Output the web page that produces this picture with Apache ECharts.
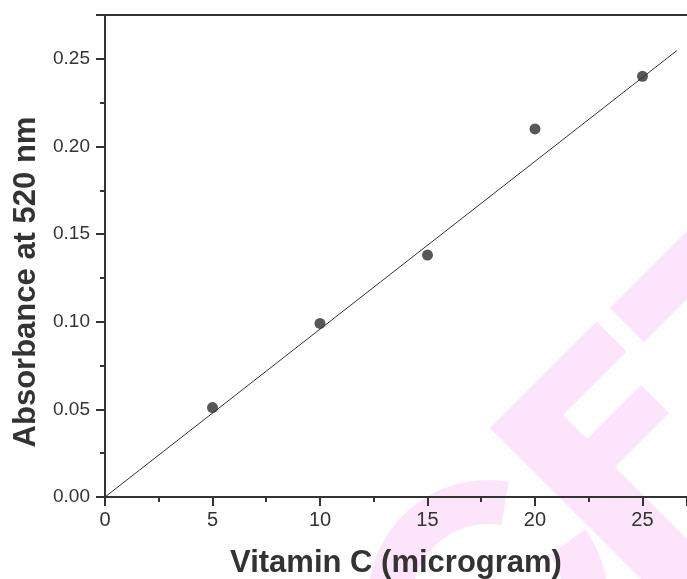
<!DOCTYPE html>
<html>
<head>
<meta charset="utf-8">
<title>Vitamin C calibration</title>
<script src="https://cdn.jsdelivr.net/npm/echarts@6/dist/echarts.min.js"></script>
<style>
  html, body { margin: 0; padding: 0; background: #ffffff; }
  #chart { width: 687px; height: 579px; }
</style>
</head>
<body>
<div id="chart"></div>
<script>
// Calibration standards: amount of vitamin C and measured absorbance
const vitaminC = [5, 10, 15, 20, 25];
const absorbance = [0.051, 0.099, 0.138, 0.210, 0.240];

// End points of the fitted calibration line
const fitX = [0, 26.6];
const fitY = [0, 0.2547];

// Axis ranges and label steps
const xRange = [0, 27.07];
const yRange = [0, 0.275];
const xStep = 5;
const yStep = 0.05;

const INK = '#333333';
const FONT = "Arial, 'Liberation Sans', Helvetica, sans-serif";

const points = vitaminC.map((x, i) => [x, absorbance[i]]);
const fitLine = fitX.map((x, i) => [x, fitY[i]]);

const chart = echarts.init(document.getElementById('chart'), null, { renderer: 'canvas' });

const axisCommon = {
  type: 'value',
  axisLine: { show: true, onZero: false, lineStyle: { color: INK, width: 2 } },
  axisTick: { show: true, inside: false, length: 9, lineStyle: { color: INK, width: 2 } },
  minorTick: { show: true, splitNumber: 2, length: 5, lineStyle: { color: INK, width: 2 } },
  splitLine: { show: false },
  minorSplitLine: { show: false }
};

chart.setOption({
  animation: false,
  backgroundColor: '#ffffff',
  textStyle: { fontFamily: FONT },
  grid: {
    left: 105, top: 15, right: 0, bottom: 82,
    containLabel: false,
    outerBoundsMode: 'none'
  },
  xAxis: [
    Object.assign({}, axisCommon, {
      position: 'bottom',
      min: xRange[0], max: xRange[1], interval: xStep,
      axisLabel: {
        color: INK, fontSize: 20, fontFamily: FONT, margin: 13,
        showMaxLabel: false,
        formatter: v => (Math.abs(v / xStep - Math.round(v / xStep)) < 1e-6 ? String(v) : '')
      },
      name: 'Vitamin C (microgram)',
      nameLocation: 'middle',
      nameGap: 51,
      nameTextStyle: { color: INK, fontSize: 31, fontWeight: 'bold', fontFamily: FONT }
    }),
    {
      type: 'value', position: 'top',
      min: xRange[0], max: xRange[1],
      axisLine: { show: true, onZero: false, lineStyle: { color: INK, width: 2 } },
      axisTick: { show: false }, axisLabel: { show: false }, splitLine: { show: false }
    }
  ],
  yAxis: [
    Object.assign({}, axisCommon, {
      position: 'left',
      min: yRange[0], max: yRange[1], interval: yStep,
      axisLabel: {
        color: INK, fontSize: 19, fontFamily: FONT, margin: 15,
        showMaxLabel: false,
        formatter: v => v.toFixed(2)
      },
      name: 'Absorbance at 520 nm',
      nameLocation: 'middle',
      nameGap: 63,
      nameTextStyle: {
        color: INK, fontSize: 31, fontWeight: 'bold', fontFamily: FONT,
        padding: [0, 52, 0, 0]
      }
    })
  ],
  series: [
    {
      type: 'line',
      data: fitLine,
      showSymbol: false,
      symbol: 'none',
      lineStyle: { color: INK, width: 1 },
      z: 2
    },
    {
      type: 'scatter',
      data: points,
      symbol: 'circle',
      symbolSize: 11,
      itemStyle: { color: '#2d2d31' },
      z: 3
    }
  ],
  // Pale magenta emblem laid over the plot with a multiply blend
  graphic: [
    {
      type: 'group',
      z: 100,
      silent: true,
      children: [
        {
          type: 'sector',
          shape: {
            cx: 488, cy: 600, r: 120, r0: 76,
            startAngle: -36 * Math.PI / 180,
            endAngle: 280 * Math.PI / 180,
            clockwise: true
          },
          style: { fill: '#fce4fb', blend: 'multiply' }
        },
        {
          type: 'polygon',
          shape: {
            points: [
              [490, 428], [596.5, 321.5], [626.5, 351.5], [563, 415],
              [587, 439], [641, 385], [669, 413], [615, 467],
              [774, 626], [731, 669]
            ]
          },
          style: { fill: '#fce4fb', blend: 'multiply' }
        },
        {
          type: 'polygon',
          shape: { points: [[610, 308], [759, 159], [793, 193], [644, 342]] },
          style: { fill: '#fce4fb', blend: 'multiply' }
        }
      ]
    }
  ]
});
</script>
</body>
</html>
